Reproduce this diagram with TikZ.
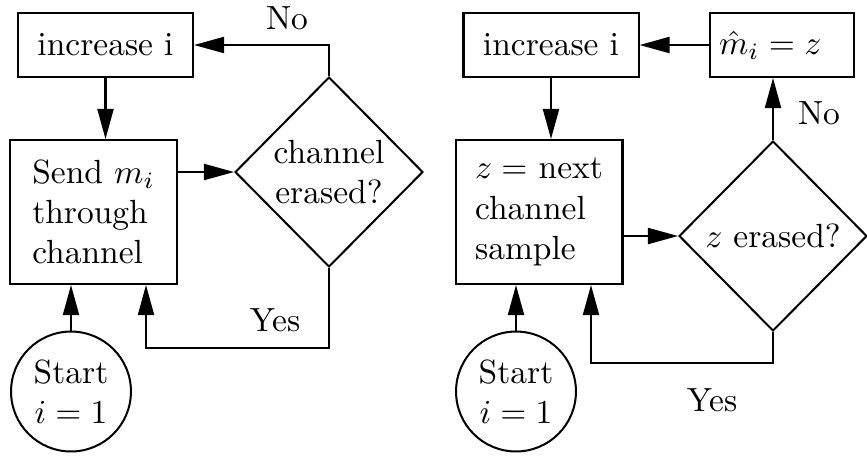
\documentclass[tikz,border=0pt]{standalone}
\usetikzlibrary{shapes.geometric,arrows.meta}
\begin{document}
\begin{tikzpicture}[x=0.29851pt,y=-0.29851pt, line width=0.6pt,
  box/.style={draw, rectangle, inner sep=0pt},
  decision/.style={draw, diamond, inner sep=0pt, minimum width=56.1pt, minimum height=56.7pt, align=center},
  startnode/.style={draw, circle, inner sep=0pt, minimum size=35.8pt, align=center},
  flow/.style={-{Triangle[length=9pt,width=4.8pt]}},
  lbl/.style={inner sep=0pt}]
\useasboundingbox (0,0) rectangle (867,458);
% left diagram
\node[box, minimum width=52.24pt, minimum height=19.1pt] (inc1) at (105.5,45) {increase i};
\node[box, minimum width=49.85pt, minimum height=42.99pt, align=left] (send1) at (93.5,212) {Send $m_i$\\through\\channel};
\node[decision] (d1) at (329,172) {channel\\erased?};
\node[startnode] (c1) at (71,391.5) {Start\\$i=1$};
\node[lbl] (no1) at (287,18) {No};
\node[lbl] (yes1) at (275,320) {Yes};
\coordinate (y1) at (146,348);
\draw[flow] (inc1.south) -- (inc1.south |- send1.north);
\draw[flow] (send1.east |- d1.west) -- (d1.west);
\draw[flow] (d1.north) |- (inc1.east);
\draw[flow] (d1.south) |- (y1) -- (y1 |- send1.south);
\draw[flow] (c1.north) -- (c1.north |- send1.south);
% right diagram
\node[box, minimum width=52.24pt, minimum height=19.1pt] (inc2) at (551,45) {increase i};
\node[box, minimum height=19.1pt, text width=37.6pt, inner xsep=2.7pt, align=left] (m2) at (782,45) {$\hat{m}_i = z$};
\node[box, minimum width=49.85pt, minimum height=42.99pt, align=left] (send2) at (539,212) {$z =$ next\\channel\\sample};
\node[decision] (d2) at (773,236) {$z$ erased?};
\node[startnode] (c2) at (516,391.5) {Start\\$i=1$};
\node[lbl] (no2) at (819,113.5) {No};
\node[lbl] (yes2) at (712,400) {Yes};
\coordinate (y2) at (591,363);
\draw[flow] (inc2.south) -- (inc2.south |- send2.north);
\draw[flow] (send2.east |- d2.west) -- (d2.west);
\draw[flow] (d2.north) -- (d2.north |- m2.south);
\draw[flow] (m2.west) -- (inc2.east);
\draw[flow] (d2.south) |- (y2) -- (y2 |- send2.south);
\draw[flow] (c2.north) -- (c2.north |- send2.south);
\end{tikzpicture}
\end{document}
